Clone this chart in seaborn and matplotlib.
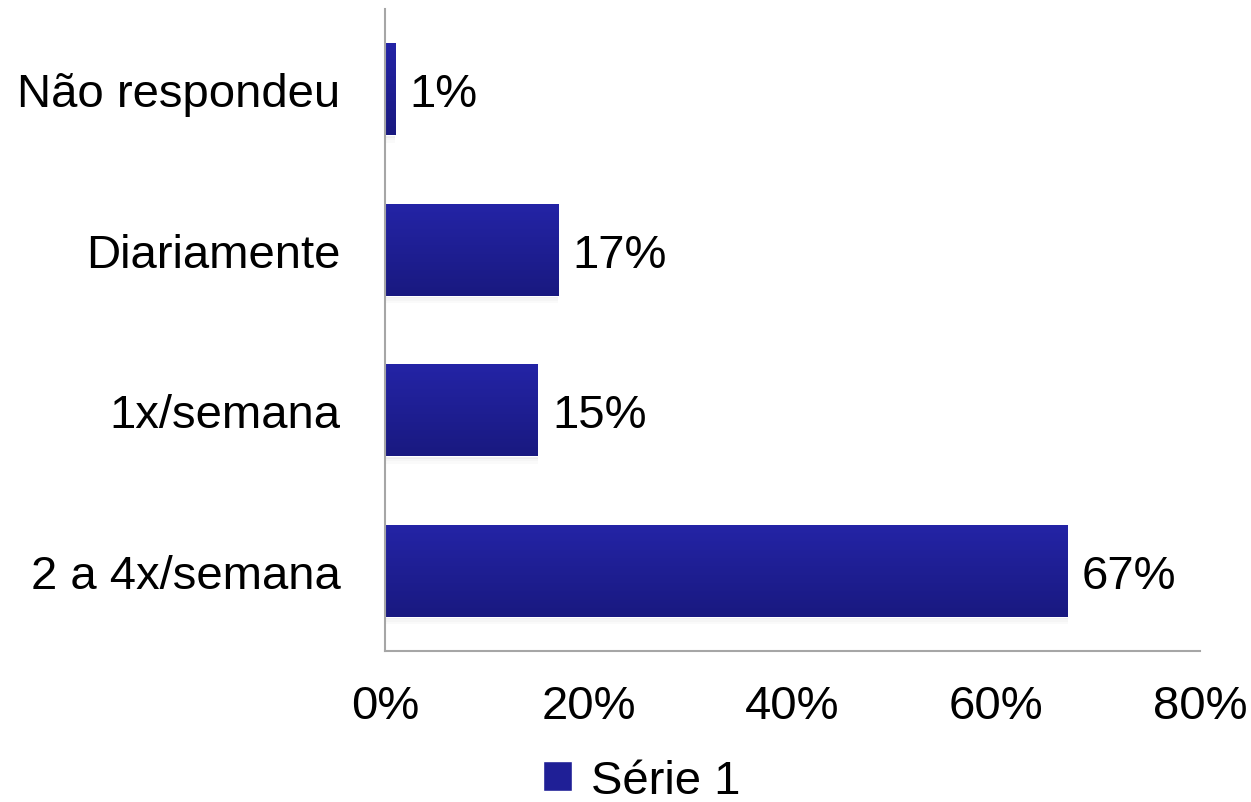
import numpy as np
import pandas as pd
import matplotlib
matplotlib.use("Agg")
import matplotlib.pyplot as plt
import seaborn as sns
from matplotlib.patches import Patch
from matplotlib.colors import LinearSegmentedColormap

# Dados do gráfico
categorias = ["Não respondeu", "Diariamente", "1x/semana", "2 a 4x/semana"]
valores = [1, 17, 15, 67]
serie = "Série 1"
xticks = [0, 20, 40, 60, 80]

sns.set_theme(style="white")
plt.rcParams['font.family'] = ['Liberation Sans', 'DejaVu Sans']
plt.rcParams['text.color'] = 'black'

df = pd.DataFrame({"categoria": categorias, "valor": valores})

fig = plt.figure(figsize=(12.51, 8.03), dpi=100)
ax = fig.add_axes([0.3078, 0.188, 0.6514, 0.7995])

cor = "#1f1f96"
sns.barplot(data=df, x="valor", y="categoria", color=cor, width=0.575,
            saturation=1, ax=ax)

# gradiente vertical dentro de cada barra
grad = LinearSegmentedColormap.from_list("g", ["#2424a6", "#191980"])
for p in ax.patches:
    x0, y0 = p.get_x(), p.get_y()
    w, h = p.get_width(), p.get_height()
    # sombra leve abaixo da barra
    for k, a in enumerate([0.07, 0.04, 0.02]):
        ax.add_patch(plt.Rectangle((x0, y0 + h + k * 0.015), w, 0.015,
                                   color="#000000", alpha=a, lw=0,
                                   zorder=p.get_zorder() - 0.1))
    im = ax.imshow(np.linspace(0, 1, 100).reshape(-1, 1), cmap=grad,
                   extent=[x0, x0 + w, y0 + h, y0], aspect="auto",
                   zorder=p.get_zorder() + 0.1)
    im.set_clip_path(p)

ax.set_xlim(0, 80)
ax.set_ylim(3.5, -0.5)
ax.set_xticks(xticks)
ax.set_xticklabels([f"{t}%" for t in xticks])
ax.set_xlabel("")
ax.set_ylabel("")
ax.tick_params(axis="x", length=0, pad=24, labelsize=34, colors="black")
ax.tick_params(axis="y", length=0, pad=32, labelsize=34, colors="black")

for s in ["top", "right"]:
    ax.spines[s].set_visible(False)
for s in ["left", "bottom"]:
    ax.spines[s].set_color("#a6a6a6")
    ax.spines[s].set_linewidth(1.5)

for i, v in enumerate(valores):
    ax.text(v + 1.4, i + 0.03, f"{v}%", va="center", ha="left", fontsize=34,
            color="black")

fig.legend(handles=[Patch(facecolor=cor, label=serie)], loc="center",
           bbox_to_anchor=(0.513, 0.026), frameon=False, fontsize=34,
           handlelength=0.6, handleheight=0.6, handletextpad=0.4,
           borderpad=0, labelcolor="black")

fig.savefig("out.png", dpi=100)
